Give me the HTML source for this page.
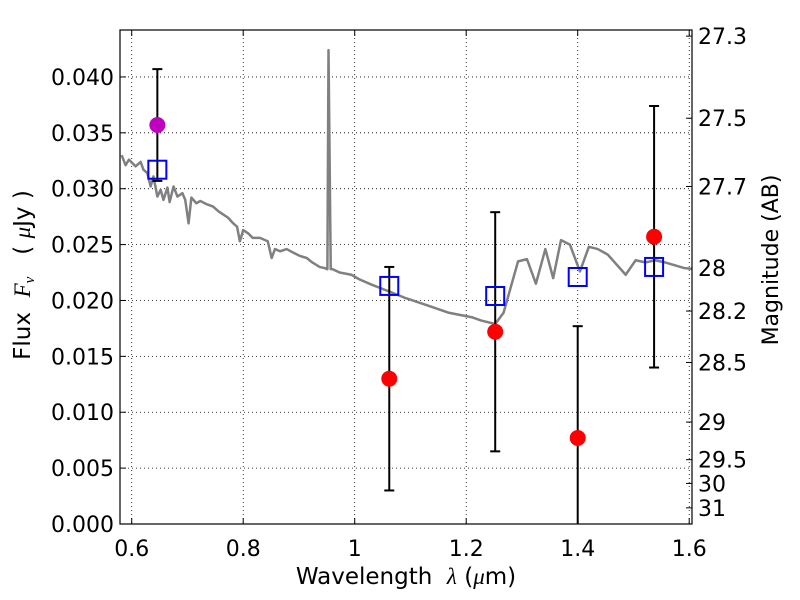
<!DOCTYPE html>
<html><head><meta charset="utf-8"><style>
body{margin:0;background:#fff}
svg{display:block}
text{font-family:"DejaVu Sans","Liberation Sans",sans-serif;fill:#000;white-space:pre}
</style></head><body>
<svg id="chart" width="800" height="600" viewBox="0 0 800 600"></svg>
<script>
const xTicks=[0.6,0.8,1.0,1.2,1.4,1.6];
const xTickLabels=["0.6","0.8","1","1.2","1.4","1.6"];
const yTicks=[0,0.005,0.010,0.015,0.020,0.025,0.030,0.035,0.040];
const yTickLabels=["0.000","0.005","0.010","0.015","0.020","0.025","0.030","0.035","0.040"];
const magTicks=[27.3,27.5,27.7,28,28.2,28.5,29,29.5,30,31];
const magTickLabels=["27.3","27.5","27.7","28","28.2","28.5","29","29.5","30","31"];
const specWave=[0.582,0.589,0.595,0.601,0.607,0.616,0.621,0.628,0.634,0.639,0.646,0.652,0.657,0.664,0.668,0.675,0.682,0.691,0.696,0.702,0.707,0.716,0.723,0.735,0.746,0.755,0.764,0.773,0.782,0.789,0.794,0.800,0.809,0.817,0.830,0.844,0.851,0.857,0.866,0.878,0.889,0.901,0.914,0.924,0.937,0.946,0.951,0.953,0.957,0.960,0.973,0.994,1.008,1.031,1.062,1.092,1.128,1.169,1.210,1.227,1.252,1.267,1.293,1.309,1.325,1.342,1.356,1.370,1.386,1.404,1.420,1.436,1.454,1.486,1.504,1.522,1.539,1.557,1.591,1.610];
const specFlux=[0.0330,0.0321,0.0326,0.0323,0.0320,0.0324,0.0317,0.0314,0.0302,0.0311,0.0293,0.0299,0.0290,0.0301,0.0288,0.0302,0.0293,0.0296,0.0290,0.0269,0.0292,0.0287,0.0289,0.0286,0.0284,0.0280,0.0277,0.0274,0.0269,0.0266,0.0253,0.0263,0.0260,0.0256,0.0256,0.0253,0.0238,0.0246,0.0244,0.0246,0.0243,0.0240,0.0238,0.0234,0.0230,0.0229,0.0228,0.0424,0.0228,0.0228,0.0225,0.0223,0.0219,0.0214,0.0208,0.0202,0.0196,0.0189,0.0185,0.0182,0.0179,0.0189,0.0235,0.0237,0.0215,0.0246,0.0220,0.0254,0.0250,0.0226,0.0248,0.0246,0.0241,0.0223,0.0236,0.0234,0.0236,0.0234,0.0229,0.0228];
const obsWave=[0.646,1.062,1.252,1.400,1.537];
const obsFlux=[0.0357,0.0130,0.0172,0.0077,0.0257];
const obsErr=[0.0050,0.0100,0.0107,0.0100,0.0117];
const obsColor=["#bf00bf","#ff0000","#ff0000","#ff0000","#ff0000"];
const modelWave=[0.646,1.062,1.252,1.400,1.537];
const modelFlux=[0.0317,0.0213,0.0204,0.0221,0.0230];

const L=120,R=692,T=30,B=524,XMIN=0.579,XMAX=1.605,YMIN=0,YMAX=0.0442;
const sx=v=>L+(v-XMIN)/(XMAX-XMIN)*(R-L);
const sy=v=>B-(v-YMIN)/(YMAX-YMIN)*(B-T);
const magToFlux=m=>Math.pow(10,(23.9-m)/2.5);
const svg=document.getElementById('chart');
const NS='http://www.w3.org/2000/svg';
function mk(tag,attrs,parent){const e=document.createElementNS(NS,tag);for(const k in attrs)e.setAttribute(k,attrs[k]);(parent||svg).appendChild(e);return e;}

const grid=mk('g',{});


xTicks.forEach((t,i)=>{
  const x=sx(t);
  const g=mk('line',{x1:x,x2:x,y1:T,y2:B,stroke:'#000','stroke-width':0.8,'stroke-dasharray':'1,3'},grid);
  
  
  mk('line',{x1:x,x2:x,y1:B,y2:B-6,stroke:'#000','stroke-width':1});
  mk('line',{x1:x,x2:x,y1:T,y2:T+6,stroke:'#000','stroke-width':1});
  const tx=mk('text',{x:x,y:B+32,'text-anchor':'middle','font-size':22});
  tx.textContent=xTickLabels[i];
  
  
});
yTicks.forEach((t,i)=>{
  const y=sy(t);
  const g=mk('line',{x1:L,x2:R,y1:y,y2:y,stroke:'#000','stroke-width':0.8,'stroke-dasharray':'1,3'},grid);
  
  
  mk('line',{x1:L,x2:L+6,y1:y,y2:y,stroke:'#000','stroke-width':1});
  const tx=mk('text',{x:L-6,y:y+8,'text-anchor':'end','font-size':22});
  tx.textContent=yTickLabels[i];
  
  
});
magTicks.forEach((m,i)=>{
  const y=sy(magToFlux(m));
  mk('line',{x1:R,x2:R-6,y1:y,y2:y,stroke:'#000','stroke-width':1});
  const tx=mk('text',{x:R+6,y:y+8,'font-size':22});
  tx.textContent=magTickLabels[i];
  
  
});

const clip=mk('clipPath',{id:'pc'});mk('rect',{x:L,y:T,width:R-L,height:B-T},clip);
const spec=mk('polyline',{points:specWave.map((w,i)=>sx(w)+','+sy(specFlux[i])).join(' '),fill:'none',stroke:'#808080','stroke-width':2.5,'stroke-linejoin':'round','clip-path':'url(#pc)'});



obsWave.forEach((w,i)=>{
  const x=sx(w),y1=sy(obsFlux[i]+obsErr[i]),y2=Math.min(B,sy(obsFlux[i]-obsErr[i]));
  const eb=mk('g',{'clip-path':'url(#pc)'});
  
  
  mk('line',{x1:x,x2:x,y1:y1,y2:y2,stroke:'#000','stroke-width':2},eb);
  mk('line',{x1:x-5,x2:x+5,y1:y1,y2:y1,stroke:'#000','stroke-width':2},eb);
  mk('line',{x1:x-5,x2:x+5,y1:sy(obsFlux[i]-obsErr[i]),y2:sy(obsFlux[i]-obsErr[i]),stroke:'#000','stroke-width':2},eb);
});
modelWave.forEach((w,i)=>{
  const r=mk('rect',{x:sx(w)-9,y:sy(modelFlux[i])-9,width:18,height:18,fill:'none',stroke:'#0000ff','stroke-width':2});
  
  
});
obsWave.forEach((w,i)=>{
  const c=mk('circle',{cx:sx(w),cy:sy(obsFlux[i]),r:8,fill:obsColor[i]});
  
  
});

const frame=mk('rect',{x:L,y:T,width:R-L,height:B-T,fill:'none',stroke:'#000','stroke-width':1.2});



const xl=mk('text',{x:406,y:584,'text-anchor':'middle','font-size':23});
xl.innerHTML='Wavelength  <tspan font-family="Liberation Serif" font-style="italic">λ</tspan> (<tspan font-family="Liberation Serif" font-style="italic">μ</tspan>m)';


const yl=mk('text',{x:0,y:0,'text-anchor':'middle','font-size':23,transform:'translate(30,275) rotate(-90)'});
yl.innerHTML='Flux  <tspan font-family="Liberation Serif" font-style="italic">F</tspan><tspan font-family="Liberation Serif" font-style="italic" font-size="15" dy="4">ν</tspan><tspan dy="-4">   ( </tspan><tspan font-family="Liberation Serif" font-style="italic">μ</tspan>Jy )';


const rl=mk('text',{x:0,y:0,'text-anchor':'middle','font-size':22,transform:'translate(778,260) rotate(-90)'});
rl.textContent='Magnitude (AB)';


</script>
</body></html>
